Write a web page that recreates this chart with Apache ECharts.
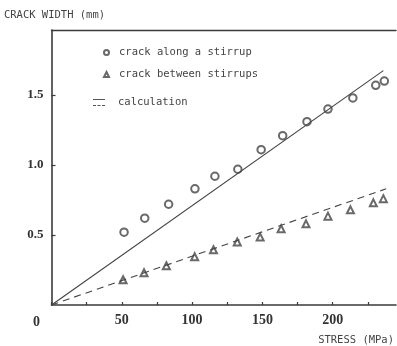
<!DOCTYPE html>
<html><head><meta charset="utf-8">
<script src="https://cdn.jsdelivr.net/npm/echarts@6/dist/echarts.min.js"></script>
<style>html,body{margin:0;padding:0;background:#fff}#c{width:397px;height:346px}</style>
</head><body><div id="c"></div>
<script>
// Data
const alongStress = [51.6, 66.3, 83.3, 102, 116.2, 132.5, 149.1, 164.4, 181.7, 196.6, 214.3, 230.6, 236.7];
const alongWidth  = [0.52, 0.62, 0.72, 0.83, 0.92, 0.97, 1.11, 1.21, 1.31, 1.40, 1.48, 1.57, 1.60];
const betweenStress = [50.9, 65.8, 81.7, 101.8, 115.2, 132.1, 148.4, 163.3, 181, 196.6, 212.6, 228.9, 236];
const betweenWidth  = [0.18, 0.23, 0.28, 0.345, 0.395, 0.45, 0.485, 0.545, 0.58, 0.635, 0.68, 0.73, 0.76];
const calcAlongX = [0, 236];
const calcAlongY = [0, 1.675];
const calcBetweenX = [0, 238];
const calcBetweenY = [0, 0.83];
const xTickLabels = [50, 100, 150, 200];
const yTickLabels = [0.5, 1.0, 1.5];
const names = ['crack along a stirrup', 'crack between stirrups', 'calculation'];

const ink = '#3a3a3a';
const mono = '"DejaVu Sans Mono", "Liberation Mono", monospace';
const serif = '"Liberation Serif", "DejaVu Serif", serif';
const zip = (a, b) => a.map((v, i) => [v, b[i]]);

const chart = echarts.init(document.getElementById('c'), null, {renderer: 'canvas'});
chart.setOption({
  animation: false,
  backgroundColor: '#fff',
  grid: {left: 51.5, top: 30, right: 0, bottom: 39, containLabel: false},
  xAxis: [{
    type: 'value', min: 0, max: 245, interval: 25,
    axisLine: {lineStyle: {color: ink, width: 1.6}},
    axisTick: {inside: true, length: 3, lineStyle: {color: ink, width: 1.2}},
    splitLine: {show: false},
    axisLabel: {
      margin: 8, color: '#333', fontFamily: serif, fontWeight: 'bold', fontSize: 14,
      showMaxLabel: false,
      formatter: v => xTickLabels.includes(v) ? String(v) : ''
    },
    name: 'STRESS (MPa)', nameLocation: 'end', nameGap: 0,
    nameTextStyle: {fontFamily: mono, fontSize: 10.5, color: '#444', align: 'right', verticalAlign: 'top', padding: [30, 2, 0, 0]}
  }, {
    type: 'value', position: 'top', min: 0, max: 245,
    axisLine: {show: true, lineStyle: {color: ink, width: 1.4}},
    axisTick: {show: false}, axisLabel: {show: false}, splitLine: {show: false}
  }],
  yAxis: {
    type: 'value', min: 0, max: 1.965, interval: 0.5,
    axisLine: {show: true, lineStyle: {color: ink, width: 1.6}},
    axisTick: {show: true, inside: true, length: 4, lineStyle: {color: ink, width: 1.2}},
    splitLine: {show: false},
    axisLabel: {
      margin: 8, color: '#333', fontFamily: serif, fontWeight: 'bold', fontSize: 13,
      showMinLabel: false, showMaxLabel: false,
      formatter: v => yTickLabels.some(t => Math.abs(t - v) < 1e-9) ? v.toFixed(1) : ''
    },
    name: 'CRACK WIDTH (mm)', nameLocation: 'end', nameGap: 9,
    nameTextStyle: {fontFamily: mono, fontSize: 10.5, color: '#444', align: 'center', padding: [0, 0, 0, 6]}
  },
  legend: [
    {data: [{name: names[0], icon: 'emptyCircle'}], left: 98, top: 42, itemWidth: 5, itemHeight: 5, itemGap: 10,
     textStyle: {fontFamily: mono, fontSize: 10.5, color: '#444', padding: [0, 0, 0, 5]}, selectedMode: false},
    {data: [{name: names[1], icon: 'emptyTriangle'}], left: 98, top: 64, itemWidth: 5, itemHeight: 5,
     textStyle: {fontFamily: mono, fontSize: 10.5, color: '#444', padding: [0, 0, 0, 5]}, selectedMode: false},
    {data: [{name: names[2], icon: 'path://M0,0H12V1H0Z M0,6H3V7H0Z M4.5,6H7.5V7H4.5Z M9,6H12V7H9Z',
             itemStyle: {color: '#555'}}],
     left: 88, top: 92, itemWidth: 12, itemHeight: 7,
     textStyle: {fontFamily: mono, fontSize: 10.5, color: '#444', padding: [2, 0, 0, 8]}, selectedMode: false}
  ],
  graphic: [{
    type: 'text', left: 33, top: 315,
    style: {text: '0', font: 'bold 14px ' + serif, fill: '#333'}
  }],
  series: [
    {name: names[0], type: 'scatter', data: zip(alongStress, alongWidth),
     symbol: 'emptyCircle', symbolSize: 7.5, itemStyle: {color: '#444', borderWidth: 1}},
    {name: names[1], type: 'scatter', data: zip(betweenStress, betweenWidth),
     symbol: 'emptyTriangle', symbolSize: 7, itemStyle: {color: '#444', borderWidth: 0.9}},
    {name: names[2], type: 'line', data: zip(calcAlongX, calcAlongY), showSymbol: false, symbol: 'none',
     lineStyle: {color: '#444', width: 1.1}},
    {name: 'calculation-dashed', type: 'line', data: zip(calcBetweenX, calcBetweenY), showSymbol: false, symbol: 'none',
     lineStyle: {color: '#444', width: 1.1, type: [7, 5]}}
  ]
});
</script></body></html>
